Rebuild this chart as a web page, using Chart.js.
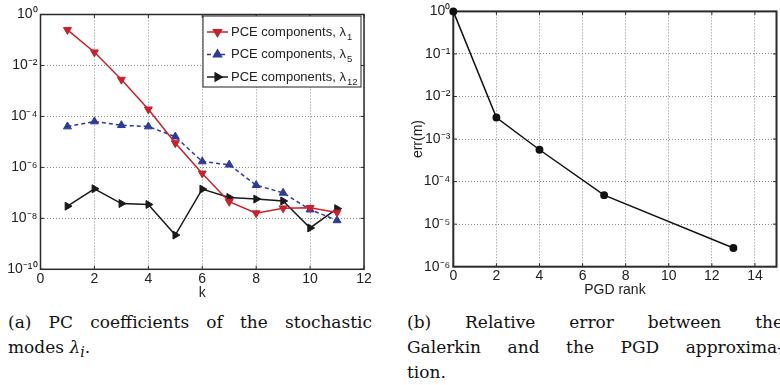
<!DOCTYPE html>
<html>
<head>
<meta charset="utf-8">
<script src="https://cdn.jsdelivr.net/npm/chart.js@4/dist/chart.umd.min.js"></script>
<style>
  body { margin: 0; width: 780px; height: 385px; overflow: hidden; background: #fff; position: relative; }
  canvas { position: absolute; top: 0; }
  #pceChart { left: 0; }
  #errChart { left: 390px; }
  .cap { position: absolute; font-family: "DejaVu Serif", serif; font-size: 17px; line-height: 25px; color: #111; }
  .cap div { white-space: nowrap; }
  .cap .full { text-align: justify; text-align-last: justify; white-space: normal; }
  #capA { left: 8px; top: 310px; width: 364px; }
  #capB { left: 407px; top: 310px; width: 376px; }
</style>
</head>
<body>
<canvas id="pceChart" width="390" height="302"></canvas>
<canvas id="errChart" width="392" height="302"></canvas>
<div class="cap" id="capA">
  <div class="full">(a) PC coefficients of the stochastic</div>
  <div>modes <i>λ</i><sub><i>i</i></sub>.</div>
</div>
<div class="cap" id="capB">
  <div class="full">(b) Relative error between the</div>
  <div class="full">Galerkin and the PGD approxima-</div>
  <div>tion.</div>
</div>
<script>
// (a) PC coefficients
const kValues = [1, 2, 3, 4, 5, 6, 7, 8, 9, 10, 11];
const lambda1 = [0.25, 0.033, 2.8e-3, 1.9e-4, 9e-6, 5.8e-7, 4.5e-8, 1.6e-8, 2.5e-8, 2.6e-8, 1.7e-8];
const lambda5 = [4e-5, 6.3e-5, 4.5e-5, 4e-5, 1.6e-5, 1.7e-6, 1.27e-6, 2e-7, 1e-7, 2.2e-8, 8.3e-9];
const lambda12 = [3e-8, 1.45e-7, 3.8e-8, 3.5e-8, 2.2e-9, 1.4e-7, 6.6e-8, 5.7e-8, 4.8e-8, 4.2e-9, 2.4e-8];
const seriesNames = ['PCE components, λ', 'PCE components, λ', 'PCE components, λ'];
const seriesSubs = ['1', '5', '12'];
const pceXTicks = [0, 2, 4, 6, 8, 10, 12];
const pceYTicks = [1, 1e-2, 1e-4, 1e-6, 1e-8, 1e-10];

// (b) relative error
const pgdRank = [0, 2, 4, 7, 13];
const relErr = [1, 3.2e-3, 5.6e-4, 4.8e-5, 2.75e-6];
const errXTicks = [0, 2, 4, 6, 8, 10, 12, 14];
const errYTicks = [1, 1e-1, 1e-2, 1e-3, 1e-4, 1e-5, 1e-6];

const SUP = { '-': '⁻', '0': '⁰', '1': '¹', '2': '²', '3': '³', '4': '⁴', '5': '⁵', '6': '⁶', '7': '⁷', '8': '⁸', '9': '⁹' };
function powerLabel(v) {
    const e = String(Math.round(Math.log10(v)));
    return '10' + e.split('').map(c => SUP[c]).join('');
}

const tickFont = { family: '"Liberation Sans", Arial, sans-serif', size: 14 };

function points(xs, ys) {
    return xs.map((x, i) => ({ x: x, y: ys[i] }));
}

function linearAxis(min, max, ticks, height, titleText, tickPad, titlePad) {
    return {
        type: 'linear', min: min, max: max,
        afterBuildTicks: s => { s.ticks = ticks.map(v => ({ value: v })); },
        afterFit: s => { s.height = height; },
        ticks: { font: tickFont, color: '#222', padding: tickPad, autoSkip: false, maxRotation: 0 },
        grid: { color: '#8a8a8a', lineWidth: 1, drawTicks: false },
        border: { display: false, dash: [1, 2] },
        title: { display: true, text: titleText, font: tickFont, color: '#222', padding: { top: 0, bottom: titlePad } }
    };
}

function logAxis(min, max, ticks, width) {
    return {
        type: 'logarithmic', min: min, max: max,
        afterBuildTicks: s => { s.ticks = ticks.map(v => ({ value: v })); },
        afterFit: s => { s.width = width; },
        ticks: { font: tickFont, color: '#222', padding: 3, autoSkip: false, callback: v => powerLabel(v) },
        grid: { color: '#8a8a8a', lineWidth: 1, drawTicks: false },
        border: { display: false, dash: [1, 2] }
    };
}

// matlab style box with inward ticks
const boxPlugin = {
    id: 'box',
    beforeDatasetsDraw(chart, args, opts) {
        const { ctx, chartArea: a, scales } = chart;
        ctx.save();
        ctx.strokeStyle = '#2a2a2a';
        ctx.lineWidth = opts.width || 1.5;
        ctx.strokeRect(a.left, a.top, a.right - a.left, a.bottom - a.top);
        ctx.lineWidth = 1;
        const len = 3.5;
        scales.x.ticks.forEach(t => {
            const px = scales.x.getPixelForValue(t.value);
            ctx.beginPath();
            ctx.moveTo(px, a.bottom); ctx.lineTo(px, a.bottom - len);
            ctx.moveTo(px, a.top); ctx.lineTo(px, a.top + len);
            ctx.stroke();
        });
        scales.y.ticks.forEach(t => {
            const py = scales.y.getPixelForValue(t.value);
            ctx.beginPath();
            ctx.moveTo(a.left, py); ctx.lineTo(a.left + len, py);
            ctx.moveTo(a.right, py); ctx.lineTo(a.right - len, py);
            ctx.stroke();
        });
        ctx.restore();
    }
};

const legendPlugin = {
    id: 'boxLegend',
    afterDraw(chart) {
        const { ctx, chartArea: a } = chart;
        const x0 = a.right - 161, y0 = a.top + 1.5, w = 158, h = 71;
        ctx.save();
        ctx.fillStyle = '#fff';
        ctx.fillRect(x0, y0, w, h);
        ctx.strokeStyle = '#222';
        ctx.lineWidth = 1;
        ctx.strokeRect(x0, y0, w, h);
        chart.data.datasets.forEach((ds, i) => {
            const y = y0 + 16 + i * 22.5;
            ctx.strokeStyle = ds.borderColor;
            ctx.lineWidth = ds.borderWidth;
            ctx.setLineDash(ds.borderDash || []);
            ctx.beginPath();
            ctx.moveTo(x0 + 4, y);
            ctx.lineTo(x0 + 25, y);
            ctx.stroke();
            ctx.setLineDash([]);
            ctx.fillStyle = ds.pointBackgroundColor;
            Chart.helpers.drawPoint(ctx, {
                pointStyle: ds.pointStyle, rotation: ds.pointRotation,
                radius: ds.pointRadius, borderWidth: 1
            }, x0 + 14.5, y);
            ctx.fillStyle = '#222';
            ctx.font = '13px "Liberation Sans", Arial, sans-serif';
            ctx.textBaseline = 'middle';
            ctx.fillText(seriesNames[i], x0 + 28, y);
            const tw = ctx.measureText(seriesNames[i]).width;
            ctx.font = '9.5px "Liberation Sans", Arial, sans-serif';
            ctx.fillText(seriesSubs[i], x0 + 29 + tw, y + 5);
        });
        ctx.restore();
    }
};

function series(label, ys, color, style, rotation, dash) {
    return {
        label: label,
        data: points(kValues, ys),
        borderColor: color,
        backgroundColor: color,
        pointBackgroundColor: color,
        pointBorderColor: color,
        borderWidth: 1.5,
        borderDash: dash,
        pointStyle: style,
        pointRotation: rotation,
        pointRadius: 4.6,
        pointBorderWidth: 1,
        tension: 0,
        clip: false
    };
}

// Left chart
new Chart(document.getElementById('pceChart').getContext('2d'), {
    type: 'line',
    data: {
        datasets: [
            series('PCE components, λ1', lambda1, '#c9202b', 'triangle', 180, []),
            series('PCE components, λ5', lambda5, '#2c3b9c', 'triangle', 0, [4, 3]),
            series('PCE components, λ12', lambda12, '#1a1a1a', 'triangle', 90, [])
        ]
    },
    options: {
        responsive: false,
        animation: false,
        layout: { padding: { left: 0, right: 26, top: 14.5, bottom: 0 } },
        scales: {
            x: linearAxis(0, 12, pceXTicks, 32.7, 'k', 1, 0),
            y: logAxis(1e-10, 1, pceYTicks, 40.5)
        },
        plugins: {
            legend: { display: false },
            tooltip: { enabled: false },
            box: { width: 1.5 }
        }
    },
    plugins: [boxPlugin, legendPlugin]
});

// Right chart
const errY = logAxis(1e-6, 1, errYTicks, 43.3);
errY.title = { display: true, text: 'err(m)', font: tickFont, color: '#222', padding: { top: 0, bottom: 0 } };

new Chart(document.getElementById('errChart').getContext('2d'), {
    type: 'line',
    data: {
        datasets: [{
            label: 'err(m)',
            data: points(pgdRank, relErr),
            borderColor: '#111',
            backgroundColor: '#111',
            pointBackgroundColor: '#111',
            pointBorderColor: '#111',
            borderWidth: 1.5,
            pointRadius: 3.2,
            tension: 0,
            clip: false
        }]
    },
    options: {
        responsive: false,
        animation: false,
        layout: { padding: { left: 20, right: 2.5, top: 8, bottom: 0 } },
        scales: {
            x: linearAxis(0, 15, errXTicks, 35.3, 'PGD rank', 1.5, 3.6),
            y: errY
        },
        plugins: {
            legend: { display: false },
            tooltip: { enabled: false },
            box: { width: 2 }
        }
    },
    plugins: [boxPlugin]
});
</script>
</body>
</html>
